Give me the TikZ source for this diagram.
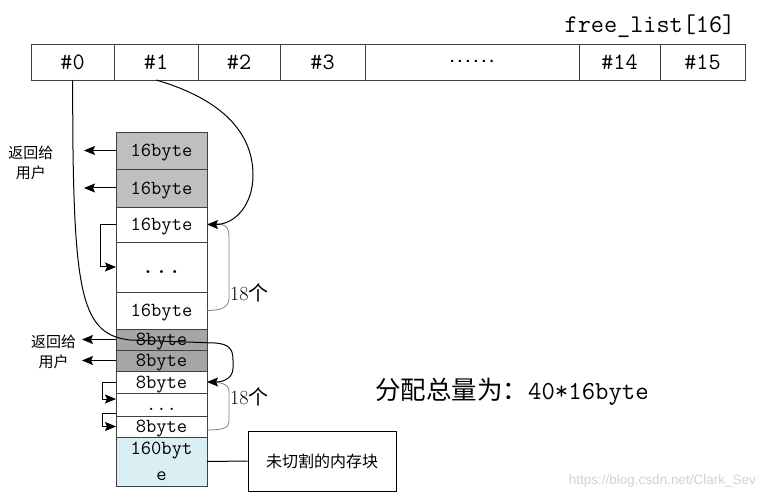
\documentclass[tikz,border=0pt]{standalone}
\usepackage{fontspec}
\newfontfamily\cjk{Noto Sans CJK SC}
\newfontfamily\wmark{Liberation Sans}
\usetikzlibrary{arrows.meta}
\definecolor{grayA}{HTML}{BFBFBF}
\definecolor{grayB}{HTML}{A5A5A5}
\definecolor{lblue}{HTML}{DAEEF3}
\definecolor{edge}{HTML}{404040}
\newcommand{\bdot}{{\fontsize{9}{10}\selectfont\textbullet}}
\begin{document}
\begin{tikzpicture}[x=1pt,y=-1pt,
  cell/.style={draw=edge, line width=0.8pt, inner sep=0pt, outer sep=0pt, minimum height=36pt,
    font=\fontsize{23.5}{26}\ttfamily},
  blk/.style={draw=edge, line width=0.8pt, inner sep=0pt, outer sep=0pt, minimum width=91pt,
    font=\fontsize{20}{26}\ttfamily, align=center, text depth=0pt},
  arr/.style={line width=1pt, -{Stealth[length=11pt,width=9pt,inset=2pt]}},
  brace/.style={draw=gray, line width=0.8pt},
  lbl/.style={inner sep=0pt, align=center, font=\fontsize{15}{20.5}\cjk},
]
\useasboundingbox (0,0) rectangle (764,500);
% title
\node[inner sep=0pt, font=\fontsize{25.5}{26}\ttfamily] (title) at (650,26) {free\_list[16]};
% top array
\node[cell, minimum width=83pt] (h0) at (72.5,62) {\#0};
\node[cell, minimum width=84pt] (h1) at (156,62) {\#1};
\node[cell, minimum width=82pt] (h2) at (239,62) {\#2};
\node[cell, minimum width=85pt] (h3) at (322.5,62) {\#3};
\node[cell, minimum width=214pt] (hd) at (472,62) {\bdot\hspace{3.2pt}\bdot\hspace{3.2pt}\bdot\hspace{3.2pt}\bdot\hspace{3.2pt}\bdot\hspace{3.2pt}\bdot};
\node[cell, minimum width=81pt] (h14) at (619.5,62) {\#14};
\node[cell, minimum width=85pt] (h15) at (702.5,62) {\#15};
% memory column
\node[blk, fill=grayA, minimum height=37pt] (g1) at (161.5,150.5) {16byte};
\node[blk, fill=grayA, minimum height=38pt] (g2) at (161.5,188) {16byte};
\node[blk, fill=white, minimum height=35pt] (w1) at (161.5,224.5) {16byte};
\node[blk, fill=white, minimum height=50pt, text height=12pt, font=\fontsize{26}{26}\ttfamily] (wd) at (161.5,267) {...};
\node[blk, fill=white, minimum height=37pt] (w2) at (161.5,310.5) {16byte};
\node[blk, fill=grayB, minimum height=21pt] (e1) at (161.5,339.5) {8byte};
\node[blk, fill=grayB, minimum height=21pt] (e2) at (161.5,360.5) {8byte};
\node[blk, fill=white, minimum height=22pt] (e3) at (161.5,382) {8byte};
\node[blk, fill=white, minimum height=23pt, text height=11pt, font=\fontsize{20}{26}\ttfamily] (ed) at (161.5,404.5) {...};
\node[blk, fill=white, minimum height=21pt] (e4) at (161.5,426.5) {8byte};
\node[blk, fill=lblue, minimum height=49pt] (big) at (161.5,461.5) {160byt\\e};
% return-to-user labels
\node[lbl] (ret1) at (31,163) {返回给\\用户};
\node[lbl] (ret2) at (53.5,352) {返回给\\用户};
\coordinate (r1) at (84,150.5);
\coordinate (r2) at (84,188);
\coordinate (r3) at (82,339.5);
\coordinate (r4) at (82,360.5);
\draw[arr] (g1.west) -- (r1);
\draw[arr] (g2.west) -- (r2);
\draw[arr] (e1.west) -- (r3);
\draw[arr] (e2.west) -- (r4);
% chain loops
\draw[arr] (w1.west) -- ++(-16,0) |- (wd.west);
\draw[arr] (e3.west) -- ++(-14,0) |- ([yshift=5.5pt]ed.west);
\draw[arr] ([yshift=-8.5pt]ed.west) -- ++(-14,0) |- (e4.west);
% braces
\draw[brace] (w1.east) .. controls (224,222) and (229,226) .. (229,236) -- (229,298)
  .. controls (229,307) and (222,310.5) .. (w2.east);
\draw[brace] (e3.east) .. controls (222,382) and (229,384) .. (229,392) -- (229,422)
  .. controls (229,428) and (222,430) .. ([yshift=-3.5pt]e4.east);
\node[anchor=west, inner sep=0pt, font=\fontsize{20}{22}\selectfont] (n1) at (230,293) {18{\cjk 个}};
\node[anchor=west, inner sep=0pt, font=\fontsize{20}{22}\selectfont] (n2) at (230,397) {18{\cjk 个}};
% curves from free list
\draw[arr] (h1.south) .. controls (225,100) and (253,135) .. (253,175)
  .. controls (253,205) and (235,224.5) .. (w1.east);
\draw[arr] (h0.south) -- (73,150) .. controls (75,300) and (85,335) .. (130,340) -- (215,343)
  .. controls (228,344) and (233,348) .. (233,360) -- (233,368)
  .. controls (233,377) and (225,382) .. (e3.east);
% uncut block
\node[draw=black, line width=1pt, minimum width=148pt, minimum height=60pt, inner sep=0pt,
  font=\fontsize{16}{18}\cjk] (box) at (322,461) {未切割的内存块};
\draw[line width=1pt] (big.east) -- (box.west);
% total
\node[anchor=west, inner sep=0pt] (total) at (375,392)
  {{\fontsize{25.5}{28}\cjk 分配总量为：}{\fontsize{26}{28}\ttfamily 40*16byte}};
% watermark
\node[anchor=east, inner sep=0pt, text=black!18, font=\fontsize{13.5}{15}\wmark] (wm) at (756,481) {https://blog.csdn.net/Clark\_Sev};
\end{tikzpicture}
\end{document}
